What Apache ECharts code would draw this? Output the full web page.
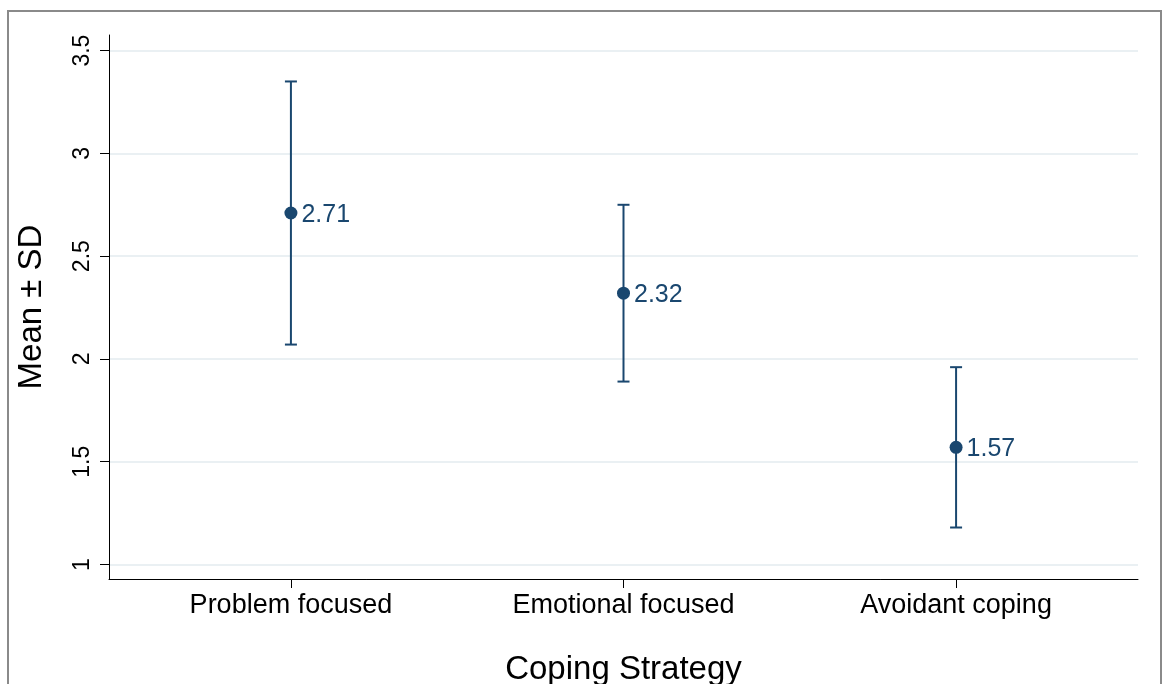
<!DOCTYPE html>
<html>
<head>
<meta charset="utf-8">
<script src="https://cdn.jsdelivr.net/npm/echarts@6/dist/echarts.min.js"></script>
<style>html,body{margin:0;padding:0;background:#fff}#c{width:1164px;height:684px}</style>
</head>
<body>
<div id="c"></div>
<script>
const categories = ['Problem focused', 'Emotional focused', 'Avoidant coping'];
const means = [2.71, 2.32, 1.57];
const lower = [2.07, 1.89, 1.18];
const upper = [3.35, 2.75, 1.96];
const yTicks = [1, 1.5, 2, 2.5, 3, 3.5];
const xTicks = [1, 2, 3];

const navy = '#1a476f';
const font = '"Liberation Sans", Arial, Helvetica, sans-serif';

const pointData = means.map((m, i) => [i + 1, m]);
const barData = means.map((m, i) => [i + 1, lower[i], upper[i]]);

const chart = echarts.init(document.getElementById('c'));
chart.setOption({
  animation: false,
  backgroundColor: '#fff',
  textStyle: { fontFamily: font },
  graphic: [{
    type: 'rect', silent: true, z: -10,
    shape: { x: 8, y: 11, width: 1153, height: 700 },
    style: { fill: '#fff', stroke: '#8a8a8a', lineWidth: 2 }
  }],
  grid: { left: 109, right: 26, top: 35, bottom: 105, containLabel: false, outerBoundsMode: 'none' },
  xAxis: {
    type: 'value', min: 0.453, max: 3.547,
    name: 'Coping Strategy', nameLocation: 'middle', nameGap: 74,
    nameTextStyle: { fontSize: 33, color: '#000', fontFamily: font },
    axisLine: { show: true, lineStyle: { color: '#000', width: 1 } },
    axisTick: { show: true, customValues: xTicks, length: 9, lineStyle: { color: '#000' } },
    axisLabel: { customValues: xTicks, fontSize: 27, color: '#000', margin: 13, fontFamily: font,
      formatter: v => categories[Math.round(v) - 1] || '' },
    splitLine: { show: false }
  },
  yAxis: {
    type: 'value', min: 0.9295, max: 3.576,
    name: 'Mean \u00b1 SD', nameLocation: 'middle', nameGap: 61,
    nameTextStyle: { fontSize: 33, color: '#000', fontFamily: font },
    axisLine: { show: true, lineStyle: { color: '#000', width: 1 } },
    axisTick: { show: true, customValues: yTicks, length: 9, lineStyle: { color: '#000' } },
    axisLabel: { customValues: yTicks, rotate: 90, fontSize: 23, color: '#000', margin: 15, fontFamily: font },
    splitLine: { show: true, lineStyle: { color: '#eaf0f3', width: 2 } }
  },
  series: [
    {
      type: 'custom',
      data: barData,
      renderItem: function (params, api) {
        const x = api.value(0);
        const lo = api.coord([x, api.value(1)]);
        const hi = api.coord([x, api.value(2)]);
        const hw = 6;
        const st = { stroke: navy, lineWidth: 2 };
        return {
          type: 'group',
          children: [
            { type: 'line', shape: { x1: lo[0], y1: lo[1], x2: hi[0], y2: hi[1] }, style: st },
            { type: 'line', shape: { x1: lo[0] - hw, y1: lo[1], x2: lo[0] + hw, y2: lo[1] }, style: st },
            { type: 'line', shape: { x1: hi[0] - hw, y1: hi[1], x2: hi[0] + hw, y2: hi[1] }, style: st }
          ]
        };
      },
      z: 2
    },
    {
      type: 'scatter',
      data: pointData,
      symbol: 'circle', symbolSize: 13,
      itemStyle: { color: navy, opacity: 1 },
      label: {
        show: true, position: 'right', distance: 4, offset: [0, 2],
        formatter: p => p.value[1].toFixed(2),
        fontSize: 25, color: navy, opacity: 1, fontFamily: font
      },
      z: 3
    }
  ]
});
</script>
</body>
</html>
